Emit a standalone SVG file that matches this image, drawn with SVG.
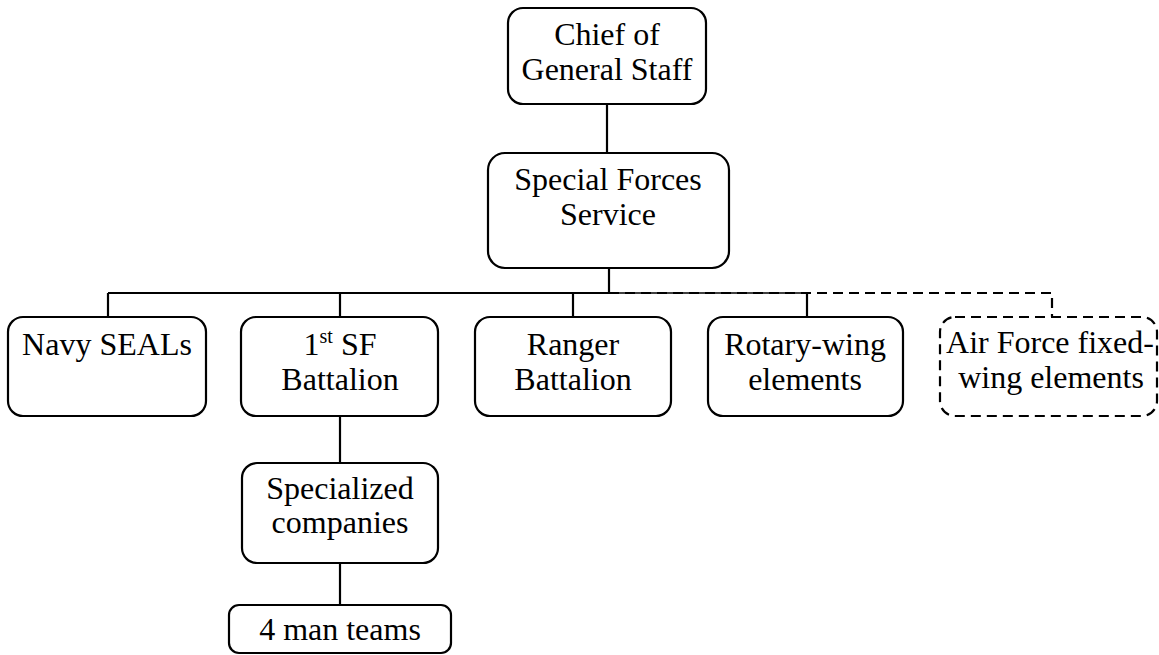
<svg xmlns="http://www.w3.org/2000/svg" width="1159" height="655" viewBox="0 0 1159 655">
<style>
.box{fill:#fff;stroke:#000;stroke-width:2.2}
.dbox{fill:#fff;stroke:#000;stroke-width:2.2;stroke-dasharray:10 6}
.ln{fill:none;stroke:#000;stroke-width:2.2}
.thin{fill:none;stroke:#000;stroke-width:1.5}
.dl{fill:none;stroke:#000;stroke-width:2.2;stroke-dasharray:10 6}
.t{font-family:'Liberation Serif','DejaVu Serif',serif;font-size:32px;fill:#000;text-anchor:middle}
.sup{font-size:20px}
</style>
<rect width="1159" height="655" fill="#fff"/>
<g id="connectors">
<line class="ln" x1="607" y1="104" x2="607" y2="153"/>
<line class="ln" x1="609" y1="268" x2="609" y2="293"/>
<line class="ln" x1="108" y1="293" x2="609" y2="293"/>
<line class="thin" x1="609" y1="293" x2="807" y2="293"/>
<path class="dl" d="M609,293 H1052 V317"/>
<line class="ln" x1="108" y1="293" x2="108" y2="317"/>
<line class="ln" x1="340" y1="293" x2="340" y2="317"/>
<line class="ln" x1="573" y1="293" x2="573" y2="317"/>
<line class="ln" x1="807" y1="293" x2="807" y2="317"/>
<line class="ln" x1="340" y1="416" x2="340" y2="463"/>
<line class="ln" x1="340" y1="563" x2="340" y2="605"/>
</g>
<g id="chief">
<rect class="box" x="508" y="8" width="198" height="96" rx="15"/>
<text class="t" x="607" y="45">Chief of</text>
<text class="t" x="607" y="80">General Staff</text>
</g>
<g id="sfs">
<rect class="box" x="488" y="153" width="241" height="115" rx="17"/>
<text class="t" x="608" y="190">Special Forces</text>
<text class="t" x="608" y="225">Service</text>
</g>
<g id="navy">
<rect class="box" x="8" y="317" width="198" height="99" rx="15"/>
<text class="t" x="107" y="355">Navy SEALs</text>
</g>
<g id="sf1">
<rect class="box" x="241" y="317" width="197" height="99" rx="15"/>
<text class="t" x="340" y="355">1<tspan class="sup" dy="-12">st</tspan><tspan dy="12"> SF</tspan></text>
<text class="t" x="340" y="390">Battalion</text>
</g>
<g id="ranger">
<rect class="box" x="475" y="317" width="196" height="99" rx="15"/>
<text class="t" x="573" y="355">Ranger</text>
<text class="t" x="573" y="390">Battalion</text>
</g>
<g id="rotary">
<rect class="box" x="708" y="317" width="195" height="99" rx="15"/>
<text class="t" x="805" y="355">Rotary-wing</text>
<text class="t" x="805" y="390">elements</text>
</g>
<g id="airforce">
<rect class="dbox" x="940" y="317" width="217" height="99" rx="15"/>
<text class="t" x="1050" y="353">Air Force fixed-</text>
<text class="t" x="1051" y="388">wing elements</text>
</g>
<g id="companies">
<rect class="box" x="242" y="463" width="196" height="100" rx="15"/>
<text class="t" x="340" y="499">Specialized</text>
<text class="t" x="340" y="533">companies</text>
</g>
<g id="teams">
<rect class="box" x="229" y="605" width="222" height="48" rx="10"/>
<text class="t" x="340" y="640">4 man teams</text>
</g>
</svg>
